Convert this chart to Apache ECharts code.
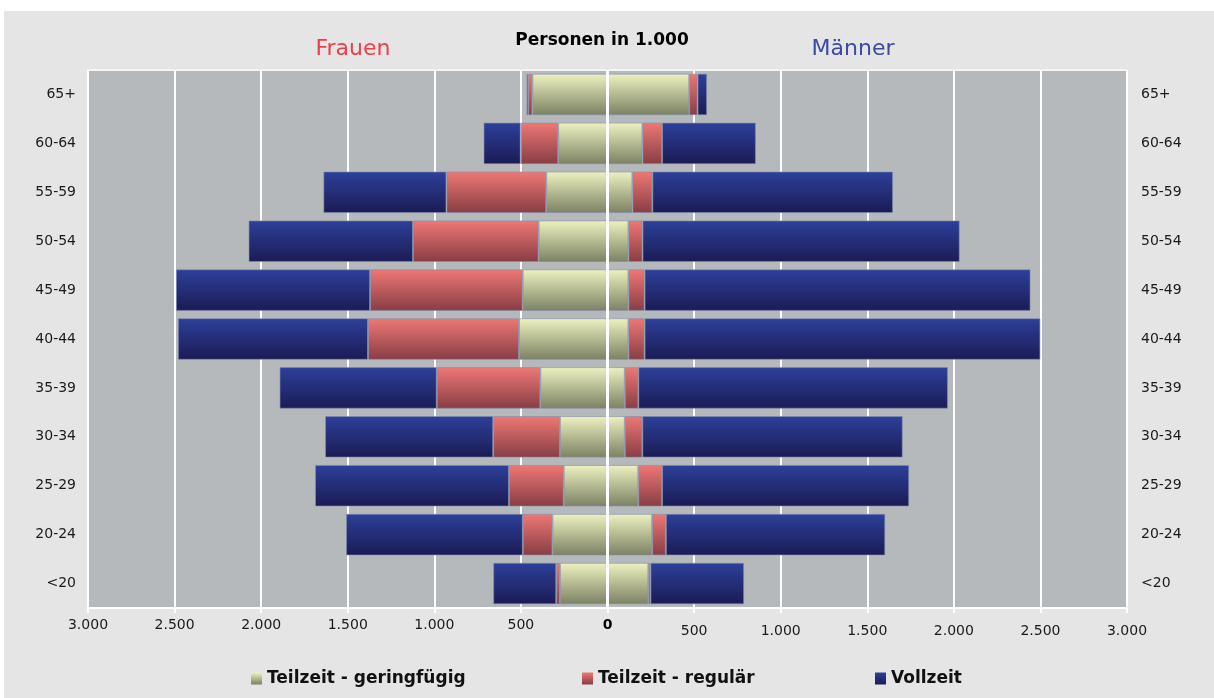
<!DOCTYPE html>
<html>
<head>
<meta charset="utf-8">
<script src="https://cdn.jsdelivr.net/npm/echarts@6/dist/echarts.min.js"></script>
<style>
  html, body { margin: 0; padding: 0; background: #ffffff; }
  #chart { position: absolute; left: 4px; top: 11px; width: 1210px; height: 687px; }
</style>
</head>
<body>
<div id="chart"></div>
<script>
// Altersgruppen (oben nach unten)
var ageGroups = ['65+', '60-64', '55-59', '50-54', '45-49', '40-44', '35-39', '30-34', '25-29', '20-24', '<20'];

// Frauen, Personen in 1.000
var womenGering = [434, 285, 354, 398, 490, 511, 388, 275, 253, 318, 275];
var womenRegular = [24, 216, 576, 725, 881, 872, 598, 385, 316, 171, 21];
var womenVoll = [10, 215, 711, 950, 1121, 1098, 908, 971, 1120, 1021, 364];

// Männer, Personen in 1.000
var menGering = [472, 202, 144, 121, 121, 121, 100, 100, 178, 258, 236];
var menRegular = [48, 113, 115, 81, 93, 93, 78, 101, 137, 79, 12];
var menVoll = [55, 542, 1390, 1832, 2229, 2286, 1788, 1504, 1427, 1267, 541];

var xTicks = [-3000, -2500, -2000, -1500, -1000, -500, 0, 500, 1000, 1500, 2000, 2500, 3000];

var names = ['Teilzeit - geringfügig', 'Teilzeit - regulär', 'Vollzeit'];

function grad(top, bottom) {
  return new echarts.graphic.LinearGradient(0, 0, 0, 1, [
    { offset: 0, color: top },
    { offset: 1, color: bottom }
  ]);
}

var colors = [
  grad('#eef2c1', '#7b8163'),
  grad('#ef7876', '#873d44'),
  grad('#2d409a', '#1b1b54')
];

function fmt(v) {
  var s = String(Math.abs(v));
  if (s.length > 3) s = s.slice(0, s.length - 3) + '.' + s.slice(s.length - 3);
  return s;
}

function neg(arr) {
  return arr.map(function (v) { return -v; });
}

function bar(name, data, color) {
  return {
    name: name,
    type: 'bar',
    stack: 'all',
    barCategoryGap: '15%',
    data: data,
    itemStyle: {
      color: color,
      borderColor: 'rgba(130,140,175,0.6)',
      borderWidth: 1
    }
  };
}

var series = [
  bar(names[0], neg(womenGering), colors[0]),
  bar(names[1], neg(womenRegular), colors[1]),
  bar(names[2], neg(womenVoll), colors[2]),
  bar(names[0], menGering, colors[0]),
  bar(names[1], menRegular, colors[1]),
  bar(names[2], menVoll, colors[2])
];

// weiße Mittellinie über den Balken
series[3].markLine = {
  silent: true,
  symbol: 'none',
  label: { show: false },
  lineStyle: { color: '#ffffff', width: 3, type: 'solid' },
  data: [{ xAxis: 0 }],
  z: 10
};

var chart = echarts.init(document.getElementById('chart'));

var legendStyle = {
  fontFamily: 'DejaVu Sans',
  fontWeight: 'bold',
  fontSize: 17,
  color: '#111111'
};

function legend(name, left) {
  return {
    data: [name],
    left: left,
    top: 654,
    itemWidth: 11,
    itemHeight: 12,
    itemGap: 0,
    icon: 'rect',
    itemStyle: { borderWidth: 0 },
    textStyle: legendStyle,
    selectedMode: false
  };
}

chart.setOption({
  backgroundColor: '#e4e5e4',
  animation: false,
  title: [
    {
      text: 'Frauen', left: 344, top: 22, textAlign: 'center',
      textStyle: { fontFamily: 'DejaVu Sans', fontWeight: 'normal', fontSize: 22, color: '#ee3f48' }
    },
    {
      text: 'Personen in 1.000', left: 593, top: 16, textAlign: 'center',
      textStyle: { fontFamily: 'DejaVu Sans', fontWeight: 'bold', fontSize: 17, color: '#000000' }
    },
    {
      text: 'Männer', left: 844, top: 22, textAlign: 'center',
      textStyle: { fontFamily: 'DejaVu Sans', fontWeight: 'normal', fontSize: 22, color: '#3c4aa6' }
    }
  ],
  legend: [
    legend(names[0], 242),
    legend(names[1], 573),
    legend(names[2], 866)
  ],
  grid: {
    left: 84,
    right: 87,
    top: 59,
    bottom: 90,
    show: true,
    backgroundColor: '#b6b9bb',
    borderColor: '#f4f5f4',
    borderWidth: 2
  },
  xAxis: {
    type: 'value',
    min: -3000,
    max: 3000,
    interval: 500,
    axisLine: { show: true, lineStyle: { color: '#ffffff', width: 2 } },
    axisTick: { show: true, length: 5, lineStyle: { color: '#ffffff', width: 2 } },
    splitLine: { show: true, lineStyle: { color: '#ffffff', width: 2 } },
    axisLabel: {
      margin: 10,
      customValues: xTicks,
      formatter: function (v) {
        if (v === 0) return '{z|0}';
        if (v > 0) return '{p|' + fmt(v) + '}';
        return '{n|' + fmt(v) + '}';
      },
      rich: {
        n: { fontFamily: 'DejaVu Sans', fontSize: 14, color: '#1a1a1a' },
        p: { fontFamily: 'DejaVu Sans', fontSize: 14, color: '#1a1a1a', padding: [6, 0, 0, 0] },
        z: { fontFamily: 'DejaVu Sans', fontSize: 14, fontWeight: 'bold', color: '#000000' }
      }
    }
  },
  yAxis: [
    {
      type: 'category',
      position: 'left',
      inverse: true,
      data: ageGroups,
      axisLine: { show: false },
      axisTick: { show: false },
      axisLabel: { margin: 12, fontFamily: 'DejaVu Sans', fontSize: 14, color: '#1a1a1a' }
    },
    {
      type: 'category',
      position: 'right',
      inverse: true,
      data: ageGroups,
      axisLine: { show: false },
      axisTick: { show: false },
      axisLabel: { margin: 14, fontFamily: 'DejaVu Sans', fontSize: 14, color: '#1a1a1a' }
    }
  ],
  series: series
});
</script>
</body>
</html>
